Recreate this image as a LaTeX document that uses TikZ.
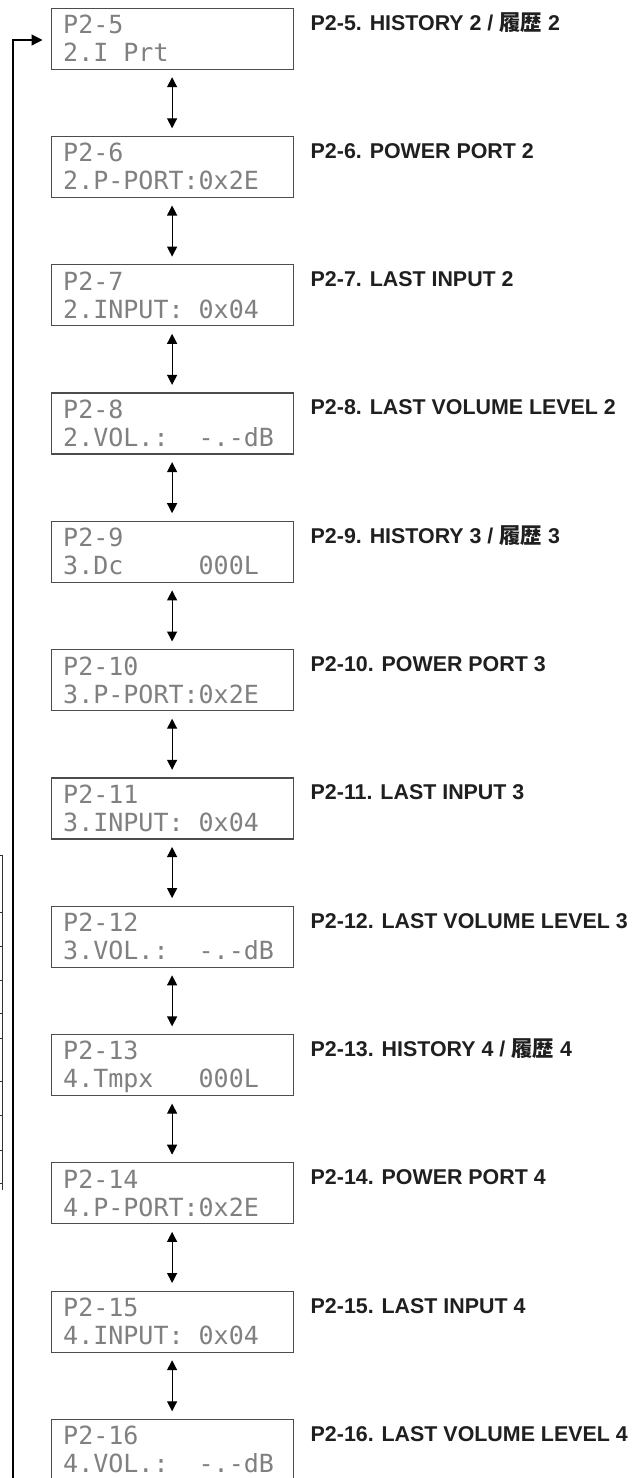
\documentclass[tikz,border=0pt]{standalone}
\usepackage{fontspec}
\setmainfont{Liberation Sans}
\newfontfamily\lcdfont{DejaVu Sans Mono}
\newfontfamily\cjk{Noto Sans CJK JP}
\usetikzlibrary{arrows.meta}
\tikzset{
  lcd/.style={draw=black!70, line width=1.2pt, minimum width=242pt, minimum height=61pt, inner sep=0pt, anchor=north west, fill=white},
  lcdtxt/.style={font=\lcdfont\fontsize{25}{25}\selectfont, text=black!50, inner sep=0pt, anchor=base west},
  lbl/.style={font=\bfseries\fontsize{21.4}{24}\selectfont, text=black!88, inner sep=0pt, anchor=base west},
  nav/.style={line width=1.2pt, {Triangle[length=10pt,width=10pt]}-{Triangle[length=10pt,width=10pt]}, shorten <=7.5pt, shorten >=7.5pt},
  loopline/.style={line width=1.2pt, -{Triangle[length=11pt,width=11pt]}},
  edge/.style={line width=0.8pt, black!80}
}
\newcommand\lcdscreen[5]{%
  \pgfmathsetmacro\ytop{7.5+#1*128.3}
  \node[lcd] (#2) at (50.5,\ytop) {};
  \node[lcdtxt] (#2a) at (63,\ytop+26) {#3};
  \node[lcdtxt] (#2b) at (63,\ytop+54) {#4};
  \node[lbl] (#2l) at (310.5,\ytop+22.5) {#5};
}
\begin{document}
\begin{tikzpicture}[x=1pt,y=-1pt]
\useasboundingbox (0,0) rectangle (632,1478);
\lcdscreen{0}{s5}{P2-5}{2.I\ Prt}{P2-5. HISTORY 2 / {\cjk\bfseries 履歴} 2}
\lcdscreen{1}{s6}{P2-6}{2.P-PORT:0x2E}{P2-6. POWER PORT 2}
\lcdscreen{2}{s7}{P2-7}{2.INPUT:\ 0x04}{P2-7. LAST INPUT 2}
\lcdscreen{3}{s8}{P2-8}{2.VOL.:\ \ -.-dB}{P2-8. LAST VOLUME LEVEL 2}
\lcdscreen{4}{s9}{P2-9}{3.Dc\ \ \ \ \ 000L}{P2-9. HISTORY 3 / {\cjk\bfseries 履歴} 3}
\lcdscreen{5}{s10}{P2-10}{3.P-PORT:0x2E}{P2-10. POWER PORT 3}
\lcdscreen{6}{s11}{P2-11}{3.INPUT:\ 0x04}{P2-11. LAST INPUT 3}
\lcdscreen{7}{s12}{P2-12}{3.VOL.:\ \ -.-dB}{P2-12. LAST VOLUME LEVEL 3}
\lcdscreen{8}{s13}{P2-13}{4.Tmpx\ \ \ 000L}{P2-13. HISTORY 4 / {\cjk\bfseries 履歴} 4}
\lcdscreen{9}{s14}{P2-14}{4.P-PORT:0x2E}{P2-14. POWER PORT 4}
\lcdscreen{10}{s15}{P2-15}{4.INPUT:\ 0x04}{P2-15. LAST INPUT 4}
\lcdscreen{11}{s16}{P2-16}{4.VOL.:\ \ -.-dB}{P2-16. LAST VOLUME LEVEL 4}
\foreach \a/\b in {s5/s6,s6/s7,s7/s8,s8/s9,s9/s10,s10/s11,s11/s12,s12/s13,s13/s14,s14/s15,s15/s16}
  \draw[nav] (\a.south) -- (\b.north);
\coordinate (loopend) at (13,1478);
\coordinate (loopin) at (50.5,40);
\draw[loopline, shorten >=8pt] (loopend) |- (loopin);
% fragment of a neighbouring table at the left edge
\draw[edge] (2.7,855) -- (2.7,1190);
\foreach \yy in {855,912,946,980,1013,1038,1081,1115,1150,1183}
  \draw[edge] (0,\yy) -- (2.7,\yy);
\end{tikzpicture}
\end{document}
